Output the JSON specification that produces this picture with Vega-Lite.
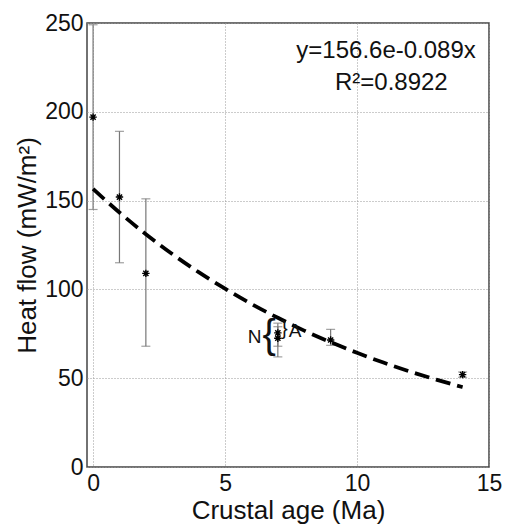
{
  "$schema": "https://vega.github.io/schema/vega-lite/v6.json",
  "width": 402,
  "height": 444,
  "autosize": {"type": "none"},
  "padding": {"left": 87, "top": 23, "right": 17, "bottom": 59},
  "background": "white",
  "config": {
    "font": "Liberation Sans",
    "view": {"stroke": "#444444", "strokeWidth": 1.5},
    "axis": {
      "labelFont": "Liberation Sans",
      "titleFont": "Liberation Sans",
      "labelFontSize": 23,
      "titleFontSize": 26,
      "labelColor": "#111111",
      "titleColor": "#111111",
      "titleFontWeight": "normal",
      "labelFlush": false,
      "ticks": false,
      "domain": false,
      "grid": true,
      "gridColor": "#999999",
      "gridDash": [1, 2],
      "gridWidth": 1
    }
  },
  "datasets": {
    "obs": [
      {"age": 0, "hf": 197, "lo": 145, "hi": 249},
      {"age": 1, "hf": 152, "lo": 115, "hi": 189},
      {"age": 2, "hf": 109, "lo": 68, "hi": 151},
      {"age": 7, "hf": 75.5, "lo": 62, "hi": 81},
      {"age": 7, "hf": 72.5, "lo": 68, "hi": 79},
      {"age": 9, "hf": 71.5, "lo": 68.5, "hi": 77.5},
      {"age": 14, "hf": 52, "lo": 50.5, "hi": 53.5}
    ],
    "fit": [
      {"age": 0, "hf": 156.6}, {"age": 1, "hf": 143.3}, {"age": 2, "hf": 131.1},
      {"age": 3, "hf": 119.9}, {"age": 4, "hf": 109.7}, {"age": 5, "hf": 100.4},
      {"age": 6, "hf": 91.8}, {"age": 7, "hf": 84.0}, {"age": 8, "hf": 76.8},
      {"age": 9, "hf": 70.3}, {"age": 10, "hf": 64.3}, {"age": 11, "hf": 58.8},
      {"age": 12, "hf": 53.8}, {"age": 13, "hf": 49.2}, {"age": 14, "hf": 45.0}
    ],
    "labels": [
      {"age": 6.12, "hf": 73, "t": "N", "s": 19},
      {"age": 7.65, "hf": 76.5, "t": "A", "s": 19},
      {"age": 6.67, "hf": 73.5, "t": "{", "s": 40},
      {"age": 7.25, "hf": 77.5, "t": "}", "s": 20}
    ],
    "eq": [
      {"age": 11.1, "hf": 234, "t": "y=156.6e-0.089x"},
      {"age": 11.3, "hf": 216, "t": "R²=0.8922"}
    ]
  },
  "layer": [
    {
      "data": {"name": "obs"},
      "mark": {"type": "rule", "color": "#777777", "strokeWidth": 1.2},
      "encoding": {
        "x": {"field": "age", "type": "quantitative", "scale": {"domain": [-0.23, 15], "nice": false, "zero": false},
              "axis": {"values": [0, 5, 10, 15], "title": "Crustal age (Ma)", "labelPadding": 5, "titlePadding": 2}},
        "y": {"field": "lo", "type": "quantitative", "scale": {"domain": [0, 250], "nice": false},
              "axis": {"values": [0, 50, 100, 150, 200, 250], "title": "Heat flow (mW/m²)", "labelPadding": 4, "titlePadding": 4}},
        "y2": {"field": "hi"}
      }
    },
    {
      "data": {"name": "obs"},
      "mark": {"type": "tick", "orient": "horizontal", "color": "#777777", "size": 9, "thickness": 1.2},
      "encoding": {
        "x": {"field": "age", "type": "quantitative"},
        "y": {"field": "lo", "type": "quantitative"}
      }
    },
    {
      "data": {"name": "obs"},
      "mark": {"type": "tick", "orient": "horizontal", "color": "#777777", "size": 9, "thickness": 1.2},
      "encoding": {
        "x": {"field": "age", "type": "quantitative"},
        "y": {"field": "hi", "type": "quantitative"}
      }
    },
    {
      "data": {"name": "fit"},
      "mark": {"type": "line", "color": "black", "strokeWidth": 3.8, "strokeDash": [15, 7], "interpolate": "monotone"},
      "encoding": {
        "x": {"field": "age", "type": "quantitative"},
        "y": {"field": "hf", "type": "quantitative"}
      }
    },
    {
      "data": {"name": "obs"},
      "mark": {"type": "point", "shape": "M-1,0L1,0M0,-1L0,1M-0.7,-0.7L0.7,0.7M-0.7,0.7L0.7,-0.7", "size": 55, "filled": false, "stroke": "black", "strokeWidth": 1.4, "opacity": 1},
      "encoding": {
        "x": {"field": "age", "type": "quantitative"},
        "y": {"field": "hf", "type": "quantitative"}
      }
    },
    {
      "data": {"name": "labels"},
      "mark": {"type": "text", "font": "Liberation Sans", "color": "#111111", "align": "center", "baseline": "middle"},
      "encoding": {
        "x": {"field": "age", "type": "quantitative"},
        "y": {"field": "hf", "type": "quantitative"},
        "text": {"field": "t"},
        "size": {"field": "s", "type": "quantitative", "scale": null}
      }
    },
    {
      "data": {"name": "eq"},
      "mark": {"type": "text", "font": "Liberation Sans", "fontSize": 24, "color": "#111111", "align": "center", "baseline": "middle"},
      "encoding": {
        "x": {"field": "age", "type": "quantitative"},
        "y": {"field": "hf", "type": "quantitative"},
        "text": {"field": "t"}
      }
    }
  ]
}
